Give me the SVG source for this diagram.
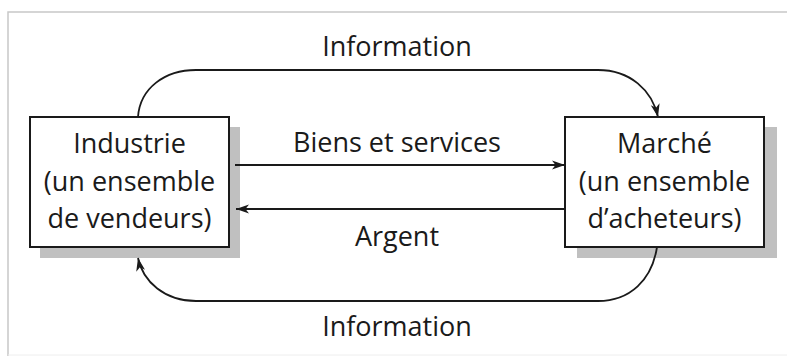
<svg xmlns="http://www.w3.org/2000/svg" width="787" height="356" viewBox="0 0 787 356">
  <style>
    .frame { fill: none; stroke: #c8c8c8; stroke-width: 1.5; }
    .box { fill: #ffffff; stroke: #1a1a1a; stroke-width: 2; }
    .shadow { fill: #c0c0c0; }
    .label { font-family: "Open Sans", "Noto Sans", sans-serif; font-size: 27px; fill: #1a1a1a; text-anchor: middle; }
    .flow { fill: none; stroke: #1a1a1a; stroke-width: 1.8; }
  </style>
  <defs>
    <marker id="head" markerUnits="userSpaceOnUse" markerWidth="14" markerHeight="10" refX="13" refY="5" orient="auto">
      <path d="M0,0.5 L13,5 L0,9.5 L3.5,5 z" fill="#1a1a1a"/>
    </marker>
  </defs>
  <rect width="787" height="356" fill="#ffffff"/>
  <!-- surrounding frame -->
  <path class="frame" d="M8,356 L8,12 L787,12"/>
  <line x1="8" y1="355" x2="787" y2="355" stroke="#eeeeee" stroke-width="1"/>

  <g id="industrie">
    <rect class="shadow" x="40" y="127" width="200" height="131"/>
    <rect class="box" x="30" y="117" width="199" height="130"/>
    <text class="label" x="129.5" y="153">Industrie</text>
    <text class="label" x="129.5" y="191">(un ensemble</text>
    <text class="label" x="129.5" y="228">de vendeurs)</text>
  </g>

  <g id="marche">
    <rect class="shadow" x="577" y="127" width="200" height="131"/>
    <rect class="box" x="565" y="117" width="199" height="130"/>
    <text class="label" x="664.5" y="153">Marché</text>
    <text class="label" x="664.5" y="191">(un ensemble</text>
    <text class="label" x="664.5" y="228">d’acheteurs)</text>
  </g>

  <g id="connectors">
    <path class="flow" d="M138,117 C140,88 165,70 196,70 L598,70 C630,70 652,90 658,117" marker-end="url(#head)"/>
    <path class="flow" d="M235,165 L565,165" marker-end="url(#head)"/>
    <path class="flow" d="M565,209 L236,209" marker-end="url(#head)"/>
    <path class="flow" d="M657,247 C652,280 630,301 598,301 L196,301 C165,301 143,282 138,258" marker-end="url(#head)"/>
    <text class="label" x="397" y="56">Information</text>
    <text class="label" x="397" y="152">Biens et services</text>
    <text class="label" x="397" y="246">Argent</text>
    <text class="label" x="397" y="336">Information</text>
  </g>
</svg>
